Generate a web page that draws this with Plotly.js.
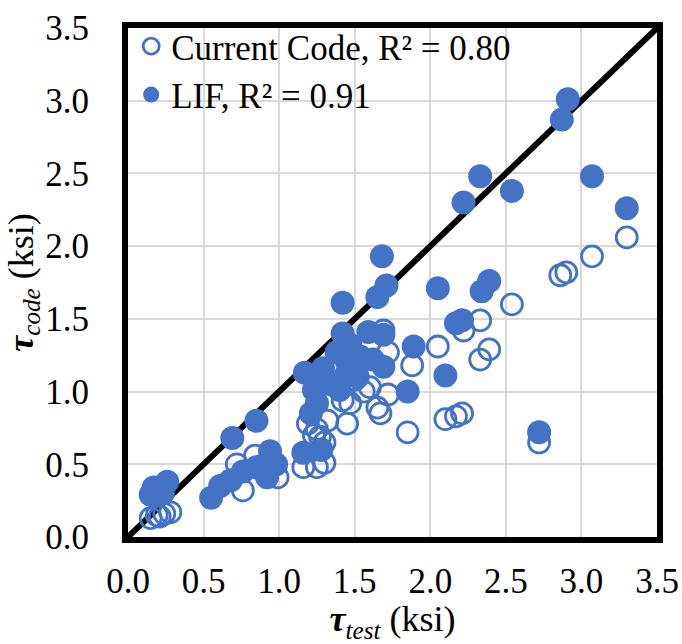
<!DOCTYPE html>
<html><head><meta charset="utf-8">
<script src="https://cdn.plot.ly/plotly-3.0.1.min.js"></script>
<style>html,body{margin:0;padding:0;background:#fff}#chart{width:682px;height:644px}</style>
</head><body><div id="chart"></div>
<script>
// Current Code (open circles)
const codeTest = [0.15,0.19,0.24,0.28,0.21,
  0.72,0.84,0.76,0.99,0.93,0.89,
  1.16,1.25,1.30,1.19,1.23,1.25,1.27,1.32,1.28,1.30,
  1.42,1.47,1.56,1.60,1.65,1.67,1.72,1.45,1.69,1.72,1.50,1.44,1.85,
  2.54,2.33,2.22,2.05,1.88,2.33,2.39,2.10,2.17,2.21,2.72,2.86,2.90,3.07,3.30];
const codeCalc = [0.13,0.15,0.16,0.17,0.14,
  0.50,0.56,0.32,0.41,0.47,0.49,
  0.48,0.48,0.51,0.78,0.70,0.74,0.69,0.80,0.60,0.65,
  0.94,0.92,1.00,1.03,0.89,0.85,0.98,0.78,1.42,1.27,1.08,1.05,0.72,
  1.60,1.49,1.42,1.31,1.18,1.22,1.29,0.81,0.83,0.85,0.65,1.80,1.82,1.93,2.06];
// LIF (filled circles)
const lifTest = [0.17,0.26,0.15,0.23,
  0.55,0.61,0.68,0.76,0.85,0.94,0.98,0.92,0.69,0.85,
  1.17,1.29,1.38,1.45,1.54,1.62,1.69,1.23,1.25,1.21,1.16,1.27,1.52,1.47,1.50,1.40,1.34,1.26,1.44,
  1.42,1.59,1.69,1.42,1.65,1.71,1.68,
  1.89,1.85,2.10,2.05,2.39,2.34,2.21,2.17,2.72,
  2.33,2.22,2.54,2.91,2.87,3.07,3.30];
const lifCalc = [0.34,0.38,0.29,0.30,
  0.27,0.35,0.39,0.45,0.48,0.59,0.50,0.41,0.68,0.80,
  1.13,1.16,1.27,1.20,1.24,1.22,1.17,1.01,0.92,0.85,0.58,0.60,1.10,1.32,1.15,1.01,1.05,1.08,1.11,
  1.40,1.41,1.39,1.61,1.65,1.73,1.93,
  1.31,1.00,1.11,1.71,1.76,1.69,1.49,1.47,0.72,
  2.48,2.30,2.38,3.01,2.87,2.48,2.26];
const diagLine = [0, 3.5];
const tickVals = [0,0.5,1,1.5,2,2.5,3,3.5];
const tickText = ['0.0','0.5','1.0','1.5','2.0','2.5','3.0','3.5'];

const blue = '#4472C4';
const serif = 'Liberation Serif';
const traces = [
  {x: diagLine, y: diagLine, mode:'lines', line:{color:'#000', width:6}, showlegend:false, hoverinfo:'skip'},
  {x: codeTest, y: codeCalc, mode:'markers', name:'Current Code, R² = 0.80',
   marker:{symbol:'circle-open', size:21, color:blue, line:{width:2.8, color:blue}}},
  {x: lifTest, y: lifCalc, mode:'markers', name:'LIF, R² = 0.91',
   marker:{symbol:'circle', size:24, color:blue, line:{width:0}}}
];
const axisCommon = {
  range:[0,3.5], tickvals: tickVals, ticktext: tickText,
  showgrid:true, gridcolor:'#d9d9d9', gridwidth:2,
  zeroline:false, showline:true, mirror:true, linecolor:'#000', linewidth:6,
  ticks:'', tickfont:{family:serif, size:35, color:'#000'}
};
const layout = {
  width:682, height:644,
  font:{family:serif, color:'#000'},
  margin:{l:128, r:25, t:28, b:107},
  paper_bgcolor:'#fff', plot_bgcolor:'#fff',
  showlegend:true,
  legend:{x:0.006, y:1.022, xanchor:'left', yanchor:'top', bgcolor:'rgba(255,255,255,0)',
    font:{family:serif, size:35, color:'#000'}, itemwidth:30, tracegroupgap:0},
  xaxis: Object.assign({}, axisCommon, {
    ticklabelstandoff:8,
    title:{text:'<b><i>τ</i></b><sub><i>test</i></sub> (ksi)', font:{family:serif, size:36, color:'#000'}, standoff:4}
  }),
  yaxis: Object.assign({}, axisCommon, {
    ticklabelstandoff:26,
    title:{text:'<b><i>τ</i></b><sub><i>code</i></sub> (ksi)', font:{family:serif, size:36, color:'#000'}, standoff:0}
  })
};
Plotly.newPlot('chart', traces, layout, {staticPlot:true, displayModeBar:false});
</script>
</body></html>
